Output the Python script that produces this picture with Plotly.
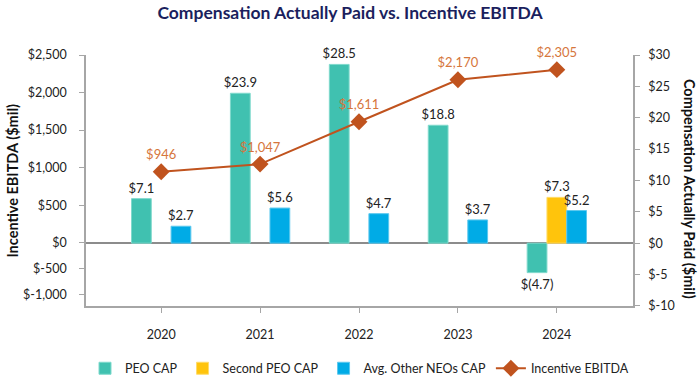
import plotly.graph_objects as go

years = ["2020", "2021", "2022", "2023", "2024"]
peo_cap = [7.1, 23.9, 28.5, 18.8, -4.7]
second_peo_cap = [None, None, None, None, 7.3]
other_neos_cap = [2.7, 5.6, 4.7, 3.7, 5.2]
incentive_ebitda = [946, 1047, 1611, 2170, 2305]

left_tick_labels = ["$-1,000", "$-500", "$0", "$500", "$1,000", "$1,500", "$2,000", "$2,500"]
left_tick_vals = [-695, -341, 0, 500, 1000, 1500, 2000, 2500]
right_tick_vals = [-10, -5, 0, 5, 10, 15, 20, 25, 30]
right_tick_labels = ["$" + str(v) for v in right_tick_vals]

FONT = "Lato"
TEAL = "#40c1b0"
YELLOW = "#ffc40c"
BLUE = "#00abe6"
LINE = "#c0531e"
LABEL_ORANGE = "#d6763c"


def fmt_cap(v):
    if v is None:
        return ""
    return "$({:.1f})".format(-v) if v < 0 else "${:.1f}".format(v)


fig = go.Figure()

for name, vals, col, edge in [
    ("PEO CAP", peo_cap, TEAL, "#7fd9cc"),
    ("Second PEO CAP", second_peo_cap, YELLOW, "#ffdc6a"),
    ("Avg. Other NEOs CAP", other_neos_cap, BLUE, "#5cc8ee"),
]:
    fig.add_trace(go.Bar(
        x=years, y=vals, name=name,
        marker=dict(color=col, line=dict(color=edge, width=1)),
        text=[fmt_cap(v) for v in vals], textposition="outside",
        constraintext="none",
        textfont=dict(family=FONT, size=13, color="#222222"),
        cliponaxis=False, yaxis="y",
    ))

fig.add_trace(go.Scatter(
    x=years, y=incentive_ebitda, name="Incentive EBITDA", yaxis="y2",
    mode="lines+markers+text",
    line=dict(color=LINE, width=2),
    marker=dict(symbol="diamond", size=13, color=LINE),
    text=["${:,}".format(v) for v in incentive_ebitda],
    textposition="top center",
    textfont=dict(family=FONT, size=13, color=LABEL_ORANGE),
    cliponaxis=False,
))

fig.update_layout(
    width=700, height=382,
    margin=dict(l=86, r=67, t=55, b=53),
    paper_bgcolor="white", plot_bgcolor="white",
    font=dict(family=FONT, size=12, color="#222222"),
    title=dict(text="<b>Compensation Actually Paid vs. Incentive EBITDA</b>",
               x=0.5, xanchor="center", y=0.967, yanchor="middle",
               font=dict(family=FONT, size=17.5, color="#1b1f5e")),
    barmode="group", bargap=0.4, bargroupgap=0,
    showlegend=True,
    legend=dict(orientation="h", x=0.5, xanchor="center", yref="container", y=0.035,
                yanchor="middle", bgcolor="rgba(0,0,0,0)",
                font=dict(family=FONT, size=12.5, color="#222222"),
                itemwidth=30, traceorder="normal"),
    xaxis=dict(type="category", range=[-0.76, 4.77], showline=True, linecolor="#a6a6a6",
               linewidth=1.5, ticks="outside", ticklen=5, tickcolor="#a6a6a6",
               showgrid=False, ticklabelstandoff=11, tickfont=dict(family=FONT, size=12.5)),
    yaxis=dict(side="right", range=[-10, 30], tickvals=right_tick_vals, ticktext=right_tick_labels,
               showline=True, linecolor="#a6a6a6", linewidth=1.5, ticks="outside", ticklen=5,
               tickcolor="#a6a6a6", showgrid=False, zeroline=True, zerolinecolor="#8c8c8c",
               zerolinewidth=1.5, ticklabelstandoff=6, tickfont=dict(family=FONT, size=12.5)),
    yaxis2=dict(side="left", overlaying="y", range=[-841, 2500], tickvals=left_tick_vals,
                ticktext=left_tick_labels, showline=True, linecolor="#a6a6a6", linewidth=1.5,
                ticks="outside", ticklen=5, tickcolor="#a6a6a6", showgrid=False, zeroline=False,
                ticklabelstandoff=10, tickfont=dict(family=FONT, size=12.5)),
    annotations=[
        dict(text="<b>Incentive EBITDA ($mil)</b>", xref="paper", yref="paper",
             x=-0.135, y=0.5, textangle=-90, showarrow=False, xanchor="center", yanchor="middle",
             font=dict(family=FONT, size=14.5, color="#111111")),
        dict(text="<b>Compensation Actually Paid ($mil)</b>", xref="paper", yref="paper",
             x=1.103, y=0.465, textangle=90, showarrow=False, xanchor="center", yanchor="middle",
             font=dict(family=FONT, size=14.5, color="#111111")),
    ],
)

fig.write_html("out.html", config={"displayModeBar": False},
               post_script="document.body.style.margin='0';document.body.style.padding='0';")
